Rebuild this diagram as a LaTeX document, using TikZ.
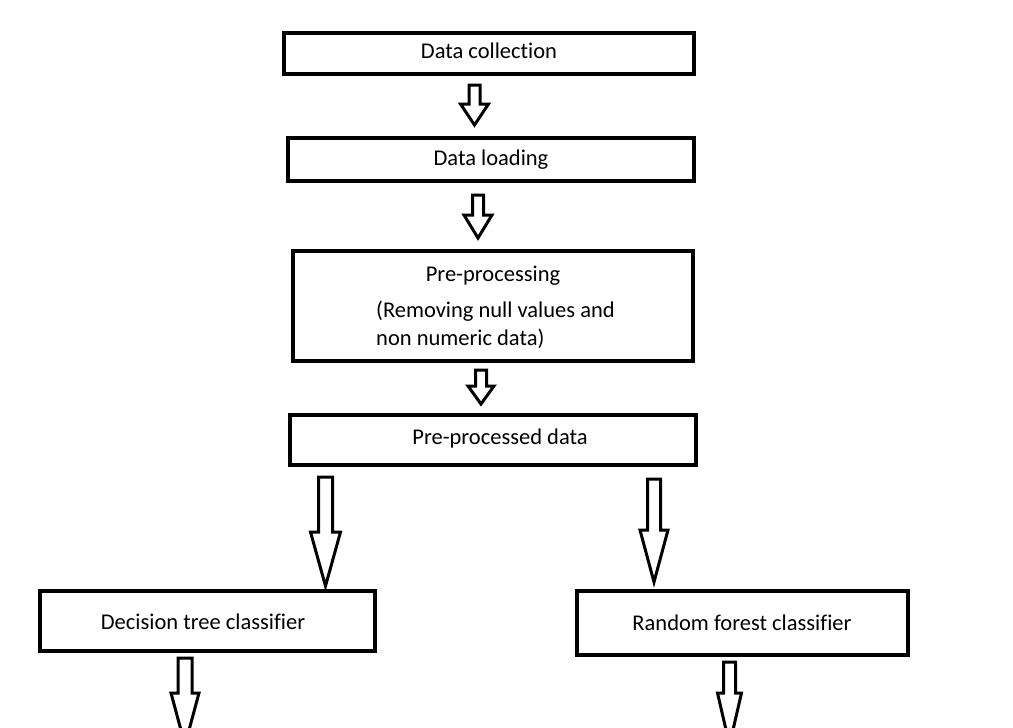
\documentclass[tikz,border=0pt]{standalone}
\usepackage{fontspec}
\setmainfont{Carlito}[Ligatures={NoCommon}]
\begin{document}
\begin{tikzpicture}[x=1pt,y=-1pt,
  box/.style={draw=black,line width=3.5pt,inner sep=0pt},
  txt/.style={font=\fontsize{22.5}{27}\selectfont,inner sep=0pt},
  blk/.style={draw=black,line width=3pt,fill=white,line join=miter}]
\useasboundingbox (0,0) rectangle (1013,728);
% boxes
\node[box,minimum width=410pt,minimum height=41pt] (b1) at (489,53.5) {};
\node[box,minimum width=406pt,minimum height=43pt] (b2) at (491,159.5) {};
\node[box,minimum width=400pt,minimum height=110pt] (b3) at (493,306) {};
\node[box,minimum width=406pt,minimum height=50pt] (b4) at (493,440) {};
\node[box,minimum width=335pt,minimum height=60pt] (b5) at (207.5,621) {};
\node[box,minimum width=331pt,minimum height=64pt] (b6) at (742.5,623) {};
% texts
\node[txt] (t1) at (489,51) {Data collection};
\node[txt] (t2) at (491,160) {Data loading};
\node[txt] (t3) at (493,276) {Pre-processing};
\node[txt,anchor=west] (t3a) at (376,311) {(Removing null values and};
\node[txt,anchor=west] (t3b) at (376,339) {non numeric data)};
\node[txt] (t4) at (500,438) {Pre-processed data};
\node[txt] (t5) at (203,622) {Decision tree classifier};
\node[txt] (t6) at (742,623) {Random forest classifier};
% block arrows: centre x, top y, head y, tip y, shaft half, head half
\newcommand\blockarrow[6]{%
  \draw[blk] (#1-#5,#2) -- (#1+#5,#2) -- (#1+#5,#3) -- (#1+#6,#3) -- (#1,#4)
    -- (#1-#6,#3) -- (#1-#5,#3) -- cycle;}
\blockarrow{474.5}{85}{104}{125}{5.5}{14}
\blockarrow{478}{195}{215}{238}{5.5}{14}
\blockarrow{481}{370}{386}{404}{5.5}{13}
\blockarrow{325.5}{477}{532}{586}{7}{15}
\blockarrow{654}{479}{530}{582}{6.5}{14}
\blockarrow{185}{658}{693}{745}{7}{14}
\blockarrow{729.5}{662}{693}{745}{6}{12}
\end{tikzpicture}
\end{document}
